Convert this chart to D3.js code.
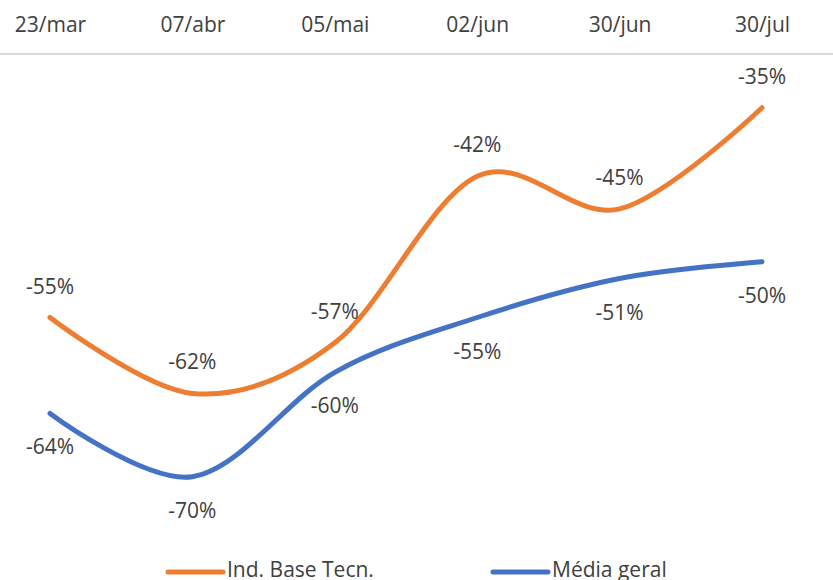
<!DOCTYPE html>
<html>
<head>
<meta charset="utf-8">
<script src="https://cdn.jsdelivr.net/npm/d3@7"></script>
<style>
  body { margin: 0; background: #fff; }
  text { font-family: "Open Sans", sans-serif; }
</style>
</head>
<body>
<script>
// datas (eixo de categorias)
var categorias = ["23/mar", "07/abr", "05/mai", "02/jun", "30/jun", "30/jul"];
// valores em %
var indBaseTecn = [-55.0, -62.2, -57.4, -41.6, -44.7, -35.1];
var mediaGeral = [-64.1, -70.1, -60.2, -55.0, -51.3, -49.7];
var nomesSeries = ["Ind. Base Tecn.", "Média geral"];

var width = 833, height = 580;
var cores = ["#ED7D31", "#4472C4"];
var corTexto = "#404040";

var svg = d3.select("body").append("svg")
    .attr("width", width)
    .attr("height", height);

var xScale = d3.scalePoint()
    .domain(categorias)
    .range([50, 762]);

// eixo y invertido, categorias cruzam no máximo (-30%)
var yScale = d3.scaleLinear()
    .domain([-30, -80])
    .range([54, 581]);

// linha do eixo x
svg.append("line")
    .attr("x1", 0).attr("x2", width)
    .attr("y1", yScale(-30)).attr("y2", yScale(-30))
    .attr("stroke", "#d9d9d9")
    .attr("stroke-width", 2);

var xAxis = d3.axisTop(xScale).tickSize(0).tickPadding(22);
var gx = svg.append("g")
    .attr("transform", "translate(0," + yScale(-30) + ")")
    .call(xAxis);
gx.select(".domain").remove();
gx.selectAll("text")
    .attr("font-size", 21)
    .attr("font-family", "Open Sans, sans-serif")
    .attr("fill", corTexto);

var linha = d3.line()
    .x(function(d, i) { return xScale(categorias[i]); })
    .y(function(d) { return yScale(d); })
    .curve(d3.curveCardinal.tension(0));

var series = [indBaseTecn, mediaGeral];
var offsets = [-24, 41]; // rótulos acima / abaixo

series.forEach(function(dados, s) {
    svg.append("path")
        .datum(dados)
        .attr("d", linha)
        .attr("fill", "none")
        .attr("stroke", cores[s])
        .attr("stroke-width", 5)
        .attr("stroke-linecap", "round");

    svg.selectAll(".rotulo" + s).data(dados).enter()
        .append("text")
        .attr("class", "rotulo" + s)
        .attr("x", function(d, i) { return xScale(categorias[i]); })
        .attr("y", function(d) { return yScale(d) + offsets[s]; })
        .attr("text-anchor", "middle")
        .attr("font-size", 21)
        .attr("fill", corTexto)
        .text(function(d) { return Math.round(d) + "%"; });
});

// legenda
var legendaX = [168, 493];
var legenda = svg.selectAll(".legenda").data(nomesSeries).enter()
    .append("g")
    .attr("class", "legenda")
    .attr("transform", function(d, i) { return "translate(" + legendaX[i] + ",572)"; });
legenda.append("line")
    .attr("x1", 0).attr("x2", 55)
    .attr("stroke", function(d, i) { return cores[i]; })
    .attr("stroke-width", 5)
    .attr("stroke-linecap", "round");
legenda.append("text")
    .attr("x", 59)
    .attr("y", 5)
    .attr("font-size", 21)
    .attr("fill", corTexto)
    .text(function(d) { return d; });
</script>
</body>
</html>
